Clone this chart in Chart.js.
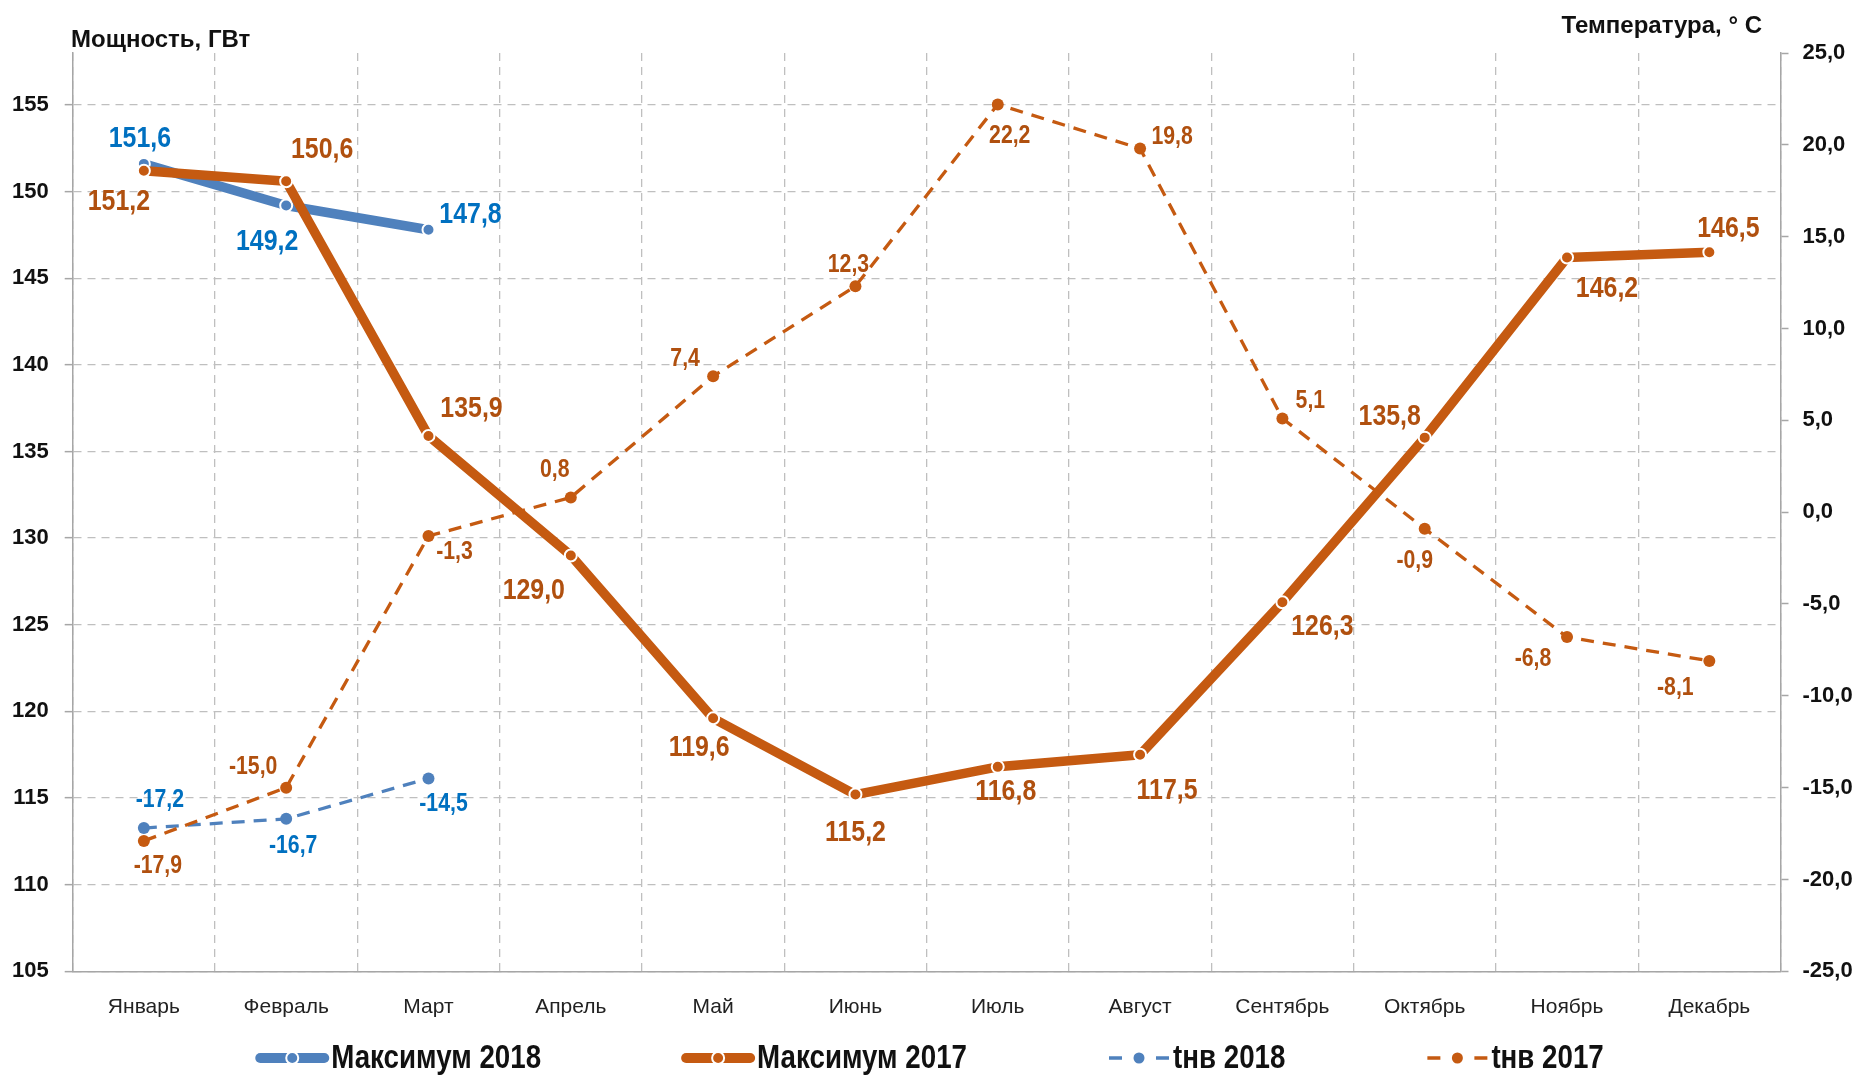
<!DOCTYPE html>
<html lang="ru">
<head>
<meta charset="utf-8">
<title>Максимум потребления мощности и температура наружного воздуха</title>
<script src="https://cdn.jsdelivr.net/npm/chart.js@4.4.1/dist/chart.umd.min.js"></script>
<style>
  html, body { margin: 0; padding: 0; background: #ffffff; }
  #wrap { width: 1859px; height: 1076px; position: relative; }
</style>
</head>
<body>
<div id="wrap"><canvas id="chart"></canvas></div>
<script>
// ---- data ----
const months = ['Январь', 'Февраль', 'Март', 'Апрель', 'Май', 'Июнь', 'Июль', 'Август', 'Сентябрь', 'Октябрь', 'Ноябрь', 'Декабрь'];
const max2018 = [151.6, 149.2, 147.8];
const max2017 = [151.2, 150.6, 135.9, 129.0, 119.6, 115.2, 116.8, 117.5, 126.3, 135.8, 146.2, 146.5];
const temp2018 = [-17.2, -16.7, -14.5];
const temp2017 = [-17.9, -15.0, -1.3, 0.8, 7.4, 12.3, 22.2, 19.8, 5.1, -0.9, -6.8, -8.1];
const powerTicks = [105, 110, 115, 120, 125, 130, 135, 140, 145, 150, 155];
const tempTicks = [-25, -20, -15, -10, -5, 0, 5, 10, 15, 20, 25];

// ---- styling ----
const BLUE = '#4f81bd';
const ORANGE = '#c55a11';
const BLUE_TEXT = '#0070c0';
const ORANGE_TEXT = '#b0500f';
const SANS = "'Liberation Sans', Arial, sans-serif";

// value-label placement relative to each point (px), per dataset
const labelOffsets = [
  [[-4, -25], [-19, 36], [42, -15]],
  [[-25, 31], [36, -31], [43, -27], [-37, 35], [-14, 29], [0, 38], [8, 25], [27, 36], [40, 24], [-35, -21], [40, 31], [19, -24]],
  [[16, -28], [7, 27], [15, 26]],
  [[14, 25], [-33, -21], [26, 16], [-16, -27], [-28, -17], [-7, -21], [12, 32], [32, -11], [28, -17], [-10, 32], [-34, 22], [-34, 27]]
];
const labelColors = [BLUE_TEXT, ORANGE_TEXT, BLUE_TEXT, ORANGE_TEXT];
const labelFonts = ['bold 30px ' + SANS, 'bold 30px ' + SANS, 'bold 25px ' + SANS, 'bold 25px ' + SANS];
const labelSqueeze = [0.83, 0.83, 0.85, 0.85];

const fmtComma = v => v.toFixed(1).replace('.', ',');

// condensed text: horizontally squeezed fillText
function drawCondensed(ctx, text, x, y, sx) {
  ctx.save();
  ctx.translate(x, y);
  ctx.scale(sx, 1);
  ctx.fillText(text, 0, 0);
  ctx.restore();
}

// value labels next to every point
const valueLabels = {
  id: 'valueLabels',
  afterDatasetsDraw(chart) {
    const ctx = chart.ctx;
    chart.data.datasets.forEach((ds, di) => {
      const meta = chart.getDatasetMeta(di);
      if (meta.hidden) return;
      ctx.save();
      ctx.font = labelFonts[di];
      ctx.fillStyle = labelColors[di];
      ctx.textAlign = 'center';
      ctx.textBaseline = 'middle';
      meta.data.forEach((pt, i) => {
        const v = ds.data[i];
        if (v === null || v === undefined) return;
        const off = labelOffsets[di][i];
        drawCondensed(ctx, fmtComma(v), pt.x + off[0], pt.y + off[1], labelSqueeze[di]);
      });
      ctx.restore();
    });
  }
};

// axis captions above both value axes
const axisCaptions = {
  id: 'axisCaptions',
  afterDraw(chart) {
    const ctx = chart.ctx;
    ctx.save();
    ctx.fillStyle = '#111111';
    ctx.textBaseline = 'middle';
    ctx.font = 'bold 24px ' + SANS;
    ctx.textAlign = 'left';
    ctx.fillText('Мощность, ГВт', 71, 40);
    ctx.textAlign = 'right';
    ctx.fillText('Температура, ° С', 1762, 26);
    ctx.restore();
  }
};

// legend row under the axis: solid lines with ring markers, dashed lines with dots
const legendRow = {
  id: 'legendRow',
  afterDraw(chart) {
    const ctx = chart.ctx;
    const y = 1058;
    const symW = [74, 74, 64, 64];
    const gap = 140;
    const sx = 0.84;
    ctx.save();
    ctx.font = 'bold 33px ' + SANS;
    ctx.textBaseline = 'middle';
    ctx.textAlign = 'left';
    const items = chart.data.datasets.map((ds, i) => ({ ds, w: symW[i] + 2 + ctx.measureText(ds.label).width * sx }));
    const total = items.reduce((s, it) => s + it.w, 0) + gap * (items.length - 1);
    let x = (chart.width - total) / 2;
    items.forEach((it, i) => {
      const ds = it.ds;
      const sw = symW[i];
      if (ds.borderDash && ds.borderDash.length) {
        ctx.strokeStyle = ds.borderColor;
        ctx.lineWidth = 3.5;
        ctx.lineCap = 'butt';
        ctx.beginPath();
        ctx.moveTo(x + 2, y); ctx.lineTo(x + 15, y);
        ctx.moveTo(x + sw - 15, y); ctx.lineTo(x + sw - 2, y);
        ctx.stroke();
        ctx.fillStyle = ds.borderColor;
        ctx.beginPath();
        ctx.arc(x + sw / 2, y, 5.5, 0, Math.PI * 2);
        ctx.fill();
      } else {
        ctx.strokeStyle = ds.borderColor;
        ctx.lineWidth = 10;
        ctx.lineCap = 'round';
        ctx.beginPath();
        ctx.moveTo(x + 5, y); ctx.lineTo(x + sw - 5, y);
        ctx.stroke();
        ctx.fillStyle = ds.borderColor;
        ctx.strokeStyle = '#ffffff';
        ctx.lineWidth = 2;
        ctx.beginPath();
        ctx.arc(x + sw / 2, y, 6, 0, Math.PI * 2);
        ctx.fill();
        ctx.stroke();
      }
      ctx.fillStyle = '#111111';
      drawCondensed(ctx, ds.label, x + sw + 2, y + 1, sx);
      x += it.w + gap;
    });
    ctx.restore();
  }
};

const powerLine = (label, data, color, order) => ({
  label, data, yAxisID: 'y', order,
  borderColor: color, backgroundColor: color,
  borderWidth: 9.5, borderCapStyle: 'round', borderJoinStyle: 'round',
  pointRadius: 6, pointHoverRadius: 6,
  pointBackgroundColor: color, pointBorderColor: '#ffffff', pointBorderWidth: 2,
  tension: 0, fill: false
});
const tempLine = (label, data, color, order) => ({
  label, data, yAxisID: 'y1', order,
  borderColor: color, backgroundColor: color,
  borderWidth: 3.3, borderDash: [13, 9],
  pointRadius: 6, pointHoverRadius: 6,
  pointBackgroundColor: color, pointBorderColor: color, pointBorderWidth: 0,
  tension: 0, fill: false
});

new Chart(document.getElementById('chart'), {
  type: 'line',
  data: {
    labels: months,
    datasets: [
      powerLine('Максимум 2018', max2018, BLUE, 4),
      powerLine('Максимум 2017', max2017, ORANGE, 3),
      tempLine('tнв 2018', temp2018, BLUE, 2),
      tempLine('tнв 2017', temp2017, ORANGE, 1)
    ]
  },
  options: {
    responsive: true,
    maintainAspectRatio: false,
    devicePixelRatio: 1,
    animation: false,
    layout: { padding: { top: 53, left: 0, right: 0, bottom: 0 } },
    plugins: {
      legend: { display: false },
      tooltip: { enabled: false }
    },
    scales: {
      x: {
        type: 'category',
        offset: true,
        afterFit: s => { s.height = 104.7; },
        grid: { offset: true, drawTicks: false, color: '#bfbfbf', lineWidth: 1.3 },
        border: { display: true, color: '#a6a6a6', width: 1.5, dash: [8, 6] },
        ticks: { padding: 23, color: '#222222', font: { family: SANS, size: 21 }, maxRotation: 0, autoSkip: false }
      },
      y: {
        position: 'left',
        min: 105, max: 158,
        afterFit: s => { s.width = 72.7; },
        afterBuildTicks: s => { s.ticks = powerTicks.map(v => ({ value: v })); },
        grid: { color: '#bfbfbf', lineWidth: 1.3, tickLength: 8, tickColor: '#a6a6a6', tickWidth: 1.5, tickBorderDash: [] },
        border: { display: true, color: '#a6a6a6', width: 1.5, dash: [8, 6] },
        ticks: { padding: 16, color: '#111111', font: { family: SANS, size: 22, weight: 'bold' } }
      },
      y1: {
        position: 'right',
        min: -25, max: 25,
        afterFit: s => { s.width = 78.5; },
        afterBuildTicks: s => { s.ticks = tempTicks.map(v => ({ value: v })); },
        grid: { drawOnChartArea: false, tickLength: 8, tickColor: '#a6a6a6', tickWidth: 1.5, tickBorderDash: [] },
        border: { display: true, color: '#a6a6a6', width: 1.5 },
        ticks: { padding: 14, color: '#111111', font: { family: SANS, size: 22, weight: 'bold' }, callback: v => fmtComma(v) }
      }
    }
  },
  plugins: [valueLabels, axisCaptions, legendRow]
});
</script>
</body>
</html>
